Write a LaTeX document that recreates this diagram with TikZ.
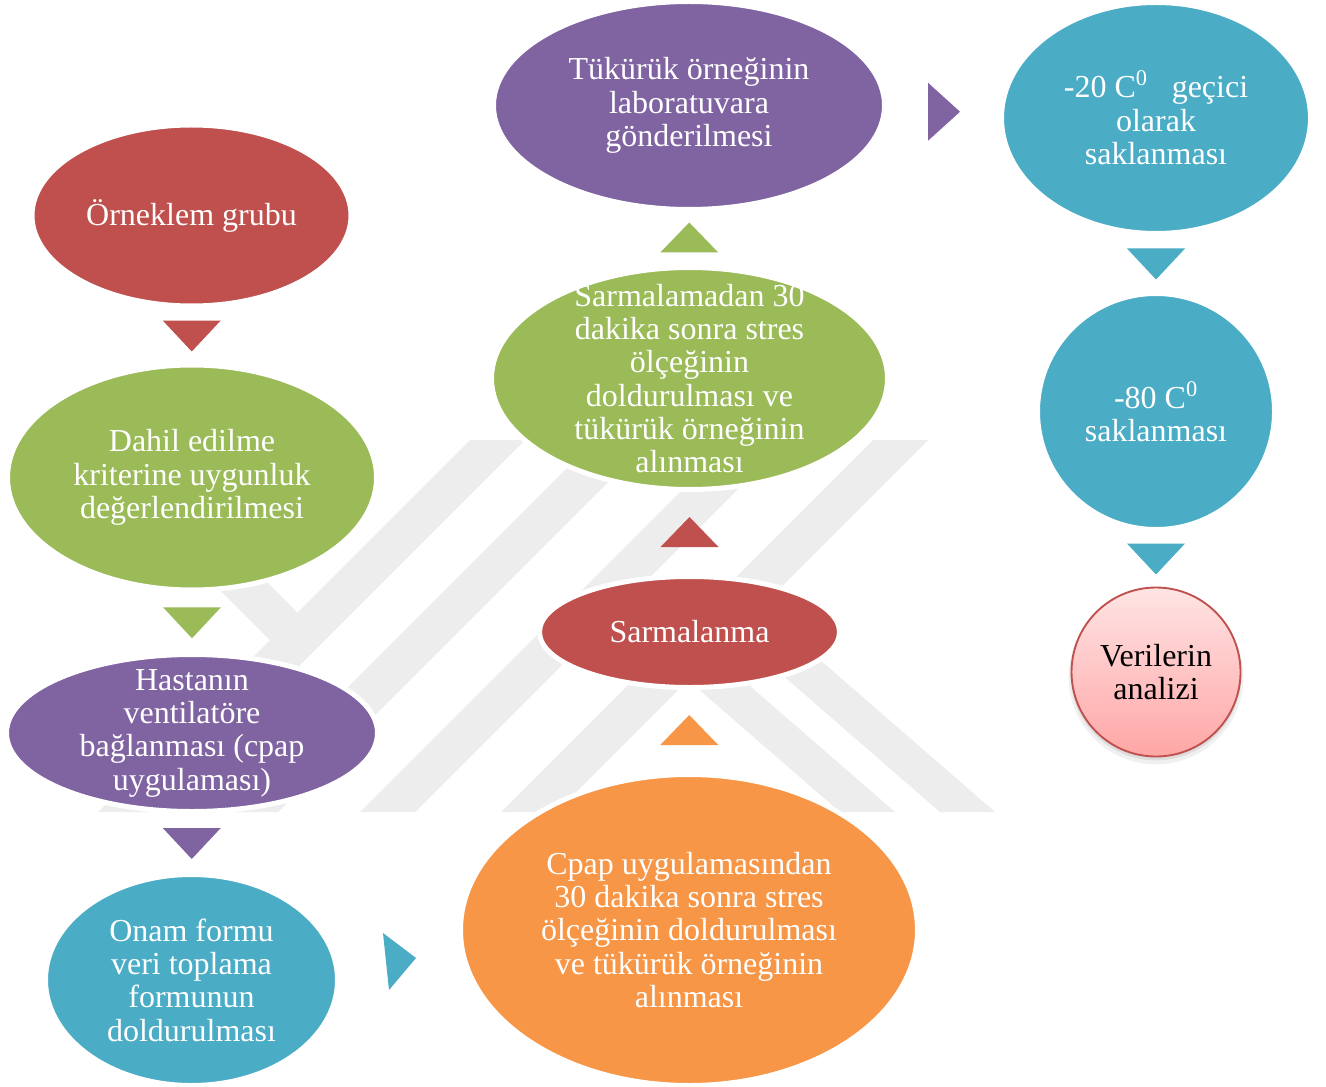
\documentclass[tikz,border=0pt]{standalone}
\usepackage{fontspec}
\setmainfont{Liberation Serif}
\usetikzlibrary{shapes.geometric,calc}
\definecolor{cred}{HTML}{C0504D}
\definecolor{cgreen}{HTML}{9BBB59}
\definecolor{cpurple}{HTML}{8064A2}
\definecolor{cteal}{HTML}{4BACC6}
\definecolor{corange}{HTML}{F79646}
\definecolor{wmark}{HTML}{EDEDED}
\definecolor{pinktop}{HTML}{FFE4E4}
\definecolor{pinkbot}{HTML}{FFA6A6}
\tikzset{
  blob/.style={ellipse, draw=white, line width=3.75pt, inner sep=0pt, outer sep=0pt},
  lbl/.style={text=white, align=center, font=\fontsize{24}{25}\selectfont, inner sep=0pt},
  wm/.style={fill=wmark},
}
% down / up / right triangle connectors between two named nodes
\newcommand\tridown[3]{%
  \coordinate (#2-#3) at ($(#2.south)!0.5!(#3.north)$);
  \fill[#1] ($(#2-#3)+(-29,-15)$) -- ($(#2-#3)+(29,-15)$) -- ($(#2-#3)+(0,16)$) -- cycle;}
\newcommand\triup[3]{%
  \coordinate (#2-#3) at ($(#2.north)!0.5!(#3.south)$);
  \fill[#1] ($(#2-#3)+(-29,14)$) -- ($(#2-#3)+(29,14)$) -- ($(#2-#3)+(0,-16)$) -- cycle;}
\newcommand\triright[3]{%
  \coordinate (#2-#3) at ($(#2.east)!0.5!(#3.west)$);
  \fill[#1] ($(#2-#3)+(-15,-29)$) -- ($(#2-#3)+(-15,29)$) -- ($(#2-#3)+(17,0)$) -- cycle;}
\begin{document}
\begin{tikzpicture}[x=0.75pt, y=-0.75pt]
\fill[white] (0,0) rectangle (1326,1087);
\useasboundingbox (0,0) rectangle (1326,1087);
% faint background watermark
\fill[wm] (470,440) -- (525,440) -- (153,812) -- (98,812) -- cycle;
\fill[wm] (595,440) -- (650,440) -- (278,812) -- (223,812) -- cycle;
\fill[wm] (732,440) -- (787,440) -- (415,812) -- (360,812) -- cycle;
\fill[wm] (873,440) -- (928,440) -- (556,812) -- (501,812) -- cycle;
\fill[wm] (70,440) -- (125,440) -- (297.5,612.5) -- (270,640) -- cycle;
\fill[wm] (696,600) -- (751,600) -- (995,812) -- (940,812) -- cycle;
\fill[wm] (665,660) -- (720,660) -- (895,812) -- (840,812) -- cycle;

% nodes
\node[blob, fill=cred, minimum width=239.25pt, minimum height=135.75pt] (n1) at (191.5,215.5) {};
\node[blob, fill=cgreen, minimum width=276.75pt, minimum height=168.75pt] (n2) at (192,477.5) {};
\node[blob, fill=cpurple, minimum width=278.25pt, minimum height=117.75pt] (n3) at (192,733) {};
\node[blob, fill=cteal, minimum width=219pt, minimum height=158.25pt] (n4) at (191.5,980) {};
\node[blob, fill=corange, minimum width=342.75pt, minimum height=233.25pt] (n5) at (689,930) {};
\node[blob, fill=cred, minimum width=225pt, minimum height=83.25pt] (n6) at (689.5,632) {};
\node[blob, fill=cgreen, minimum width=297pt, minimum height=166.5pt] (n7) at (689.5,378.5) {};
\node[blob, fill=cpurple, minimum width=293.25pt, minimum height=156pt] (n8) at (689,105.5) {};
\node[blob, fill=cteal, minimum width=231.75pt, minimum height=173.25pt] (n9) at (1156,118) {};
\node[blob, fill=cteal, minimum width=177.75pt, minimum height=177pt] (n10) at (1156,411.5) {};
\coordinate (c11) at (1156,672);
\fill[black, opacity=0.06] ($(c11)+(0,5)$) circle [radius=65.5pt];
\fill[black, opacity=0.08] ($(c11)+(0,3)$) circle [radius=64pt];
\node[circle, minimum size=126.75pt, draw=cred, line width=1.4pt, top color=pinktop, bottom color=pinkbot, inner sep=0pt, outer sep=0pt] (n11) at (c11) {};

% texts
\node[lbl] (t1) at (n1) {Örneklem grubu};
\node[lbl] (t2) at (n2) {Dahil edilme\\kriterine uygunluk\\değerlendirilmesi};
\node[lbl] (t3) at (n3) {Hastanın\\ventilatöre\\bağlanması (cpap\\uygulaması)};
\node[lbl] (t4) at (n4) {Onam formu\\veri toplama\\formunun\\doldurulması};
\node[lbl] (t5) at (n5) {Cpap uygulamasından\\30 dakika sonra stres\\ölçeğinin doldurulması\\ve tükürük örneğinin\\alınması};
\node[lbl] (t6) at (n6) {Sarmalanma};
\node[lbl] (t7) at (n7) {Sarmalamadan 30\\dakika sonra stres\\ölçeğinin\\doldurulması ve\\tükürük örneğinin\\alınması};
\node[lbl] (t8) at (n8) {Tükürük örneğinin\\laboratuvara\\gönderilmesi};
\node[lbl] (t9) at (n9) {-20 C\textsuperscript{0}\ \ \ geçici\\olarak\\saklanması};
\node[lbl] (t10) at (n10) {-80 C\textsuperscript{0}\\saklanması};
\node[lbl, text=black] (t11) at (n11) {Verilerin\\analizi};

% connectors
\tridown{cred}{n1}{n2}
\tridown{cgreen}{n2}{n3}
\tridown{cpurple}{n3}{n4}
\coordinate (n4-n5) at ($(n4.east)!0.5!(n5.west)$);
\fill[cteal] ($(n4-n5)+(-16,-22)$) -- ($(n4-n5)+(-10,35)$) -- ($(n4-n5)+(17,3)$) -- cycle;
\triup{corange}{n5}{n6}
\triup{cred}{n6}{n7}
\triup{cgreen}{n7}{n8}
\triright{cpurple}{n8}{n9}
\tridown{cteal}{n9}{n10}
\tridown{cteal}{n10}{n11}
\end{tikzpicture}
\end{document}
